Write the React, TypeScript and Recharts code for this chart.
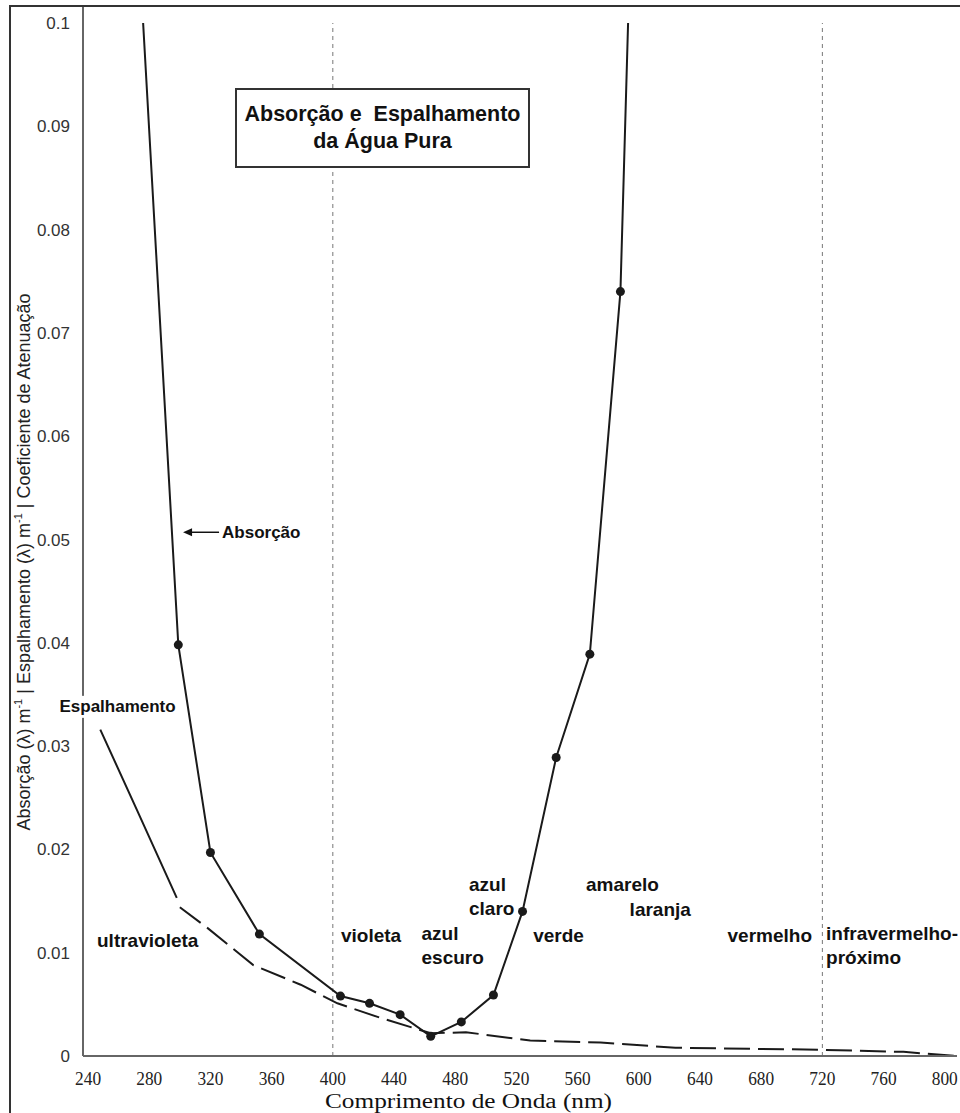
import React from 'react';
import { LineChart, Line, XAxis, YAxis, ReferenceLine, ReferenceDot, Label } from 'recharts';

// absorption of pure water (m-1)
const absorptionNm = [276, 299, 320, 352, 405, 424, 444, 464, 484, 505, 524, 546, 568, 588, 593];
const absorptionValue = [0.1, 0.0398, 0.0197, 0.0118, 0.0058, 0.0051, 0.004, 0.0019, 0.0033, 0.0059, 0.014, 0.0289, 0.0389, 0.074, 0.1];

// scattering: solid part, then the dashed part
const scatterSolidNm = [248, 272, 298];
const scatterSolidValue = [0.0316, 0.0238, 0.0153];
const scatterDashNm = [300, 318, 348, 379, 403, 431, 464, 487, 529, 575, 624, 720, 773, 807];
const scatterDashValue = [0.0144, 0.0124, 0.0088, 0.0069, 0.0051, 0.0037, 0.0022, 0.0023, 0.0015, 0.0013, 0.0008, 0.0006, 0.0004, 0];

const xTicks = [240, 280, 320, 360, 400, 440, 480, 520, 560, 600, 640, 680, 720, 760, 800];
const yTicks = [0, 0.01, 0.02, 0.03, 0.04, 0.05, 0.06, 0.07, 0.08, 0.09, 0.1];
const yTickLabels = ['0', '0.01', '0.02', '0.03', '0.04', '0.05', '0.06', '0.07', '0.08', '0.09', '0.1'];
const dividerNm = [400, 720];

// spectral band names
const bandLines = [['ultravioleta'], ['violeta'], ['azul', 'escuro'], ['azul', 'claro'], ['verde'], ['amarelo'], ['laranja'], ['vermelho'], ['infravermelho-', 'próximo']];
const bandNm = [279, 425, 458, 489, 531, 565.5, 594, 658, 722.4];
const bandValue = [0.0112, 0.0117, 0.0119, 0.0166, 0.0117, 0.0166, 0.0142, 0.0117, 0.0119];
const bandAnchor = ['middle', 'middle', 'start', 'start', 'start', 'start', 'start', 'start', 'start'];

const SANS = "'Liberation Sans', Arial, sans-serif";
const SERIF = "'Liberation Serif', 'Times New Roman', serif";

const absorptionData = absorptionNm.map((nm, i) => ({ nm, value: absorptionValue[i] }));
const scatterSolidData = scatterSolidNm.map((nm, i) => ({ nm, value: scatterSolidValue[i] }));
const scatterDashData = scatterDashNm.map((nm, i) => ({ nm, value: scatterDashValue[i] }));

const XTick = (props: any) => {
  const { x, y, payload } = props;
  return (
    <text x={x - 13} y={y + 27} textLength={26} lengthAdjust="spacingAndGlyphs" fontSize={19} fontFamily={SERIF} fill="#222">
      {payload.value}
    </text>
  );
};

const AbsDot = (props: any) => {
  const { cx, cy, index } = props;
  if (index === 0 || index === absorptionNm.length - 1) return <g key={`d${index}`} />;
  return <circle key={`d${index}`} cx={cx} cy={cy} r={4.5} fill="#1a1a1a" />;
};

const YTitle = (props: any) => {
  const cx = 24;
  const cy = 562;
  return (
    <text x={cx} y={cy} transform={`rotate(-90, ${cx}, ${cy})`} textAnchor="middle" dominantBaseline="central" fontSize={18} fontFamily={SANS} fill="#222">
      Absorção (λ) m<tspan baselineShift="super" fontSize={11}>-1</tspan>
      <tspan> | Espalhamento (λ) m</tspan>
      <tspan baselineShift="super" fontSize={11}>-1</tspan>
      <tspan> | Coeficiente de Atenuação</tspan>
    </text>
  );
};

const XTitle = (props: any) => (
  <text x={325} y={1108} textLength={287} lengthAdjust="spacingAndGlyphs" fontSize={20} fontFamily={SERIF} fill="#111">
    Comprimento de Onda (nm)
  </text>
);

const bandLabel = (lines: string[], anchor: string) => (p: any) => {
  const vb = p.viewBox || {};
  const x = vb.x + (vb.width || 0) / 2;
  const y = vb.y + (vb.height || 0) / 2;
  return (
    <g>
      {lines.map((t, i) => (
        <text key={t} x={x} y={y + i * 24} textAnchor={anchor as any} dominantBaseline="central" fontSize={19} fontWeight="bold" fontFamily={SANS} fill="#111">
          {t}
        </text>
      ))}
    </g>
  );
};

const espLabel = (p: any) => {
  const vb = p.viewBox || {};
  const x = vb.x;
  const y = vb.y;
  return (
    <g>
      <rect x={x - 62} y={y - 11} width={124} height={22} fill="#fff" />
      <text x={x} y={y} textAnchor="middle" dominantBaseline="central" fontSize={17} fontWeight="bold" fontFamily={SANS} fill="#111">
        Espalhamento
      </text>
    </g>
  );
};

const absLabel = (p: any) => {
  const vb = p.viewBox || {};
  const x = vb.x;
  const y = vb.y;
  return (
    <g>
      <line x1={x + 6} y1={y} x2={x + 36} y2={y} stroke="#111" strokeWidth={1.5} />
      <polygon points={`${x},${y} ${x + 9},${y - 4} ${x + 9},${y + 4}`} fill="#111" />
      <text x={x + 39} y={y} dominantBaseline="central" fontSize={17} fontWeight="bold" fontFamily={SANS} fill="#111">
        Absorção
      </text>
    </g>
  );
};

export default function App() {
  return (
    <div style={{ position: 'absolute', left: 0, top: 0, width: 960, height: 1113, background: '#fff', overflow: 'hidden' }}>
      <LineChart width={960} height={1113} margin={{ top: 7, right: 3, bottom: 7, left: 10 }}>
        <XAxis
          type="number"
          dataKey="nm"
          domain={[236.7, 808]}
          ticks={xTicks}
          interval={0}
          allowDataOverflow
          height={50}
          tickSize={0}
          tickLine={false}
          axisLine={{ stroke: '#666', strokeWidth: 2 }}
          tick={<XTick />}
        >
          <Label content={<XTitle />} />
        </XAxis>
        <YAxis
          type="number"
          domain={[0, 0.10155]}
          ticks={yTicks}
          interval={0}
          allowDataOverflow
          width={73}
          tickSize={0}
          tickMargin={13}
          tickLine={false}
          axisLine={{ stroke: '#666', strokeWidth: 2 }}
          tickFormatter={(v: number) => yTickLabels[yTicks.indexOf(v)] ?? String(v)}
          tick={{ fontSize: 17, fontFamily: SANS, fill: '#333' }}
        >
          <Label content={<YTitle />} />
        </YAxis>
        {dividerNm.map((nm) => (
          <ReferenceLine
            key={nm}
            segment={[{ x: nm, y: 0 }, { x: nm, y: 0.1 }]}
            stroke="#777"
            strokeWidth={1}
            strokeDasharray="4 4"
          />
        ))}
        <Line
          data={scatterSolidData}
          dataKey="value"
          type="linear"
          stroke="#1a1a1a"
          strokeWidth={2}
          dot={false}
          activeDot={false}
          isAnimationActive={false}
        />
        <Line
          data={scatterDashData}
          dataKey="value"
          type="linear"
          stroke="#1a1a1a"
          strokeWidth={2}
          strokeDasharray="26 8"
          dot={false}
          activeDot={false}
          isAnimationActive={false}
        />
        <Line
          data={absorptionData}
          dataKey="value"
          type="linear"
          stroke="#1a1a1a"
          strokeWidth={2}
          dot={AbsDot}
          activeDot={false}
          isAnimationActive={false}
        />
        {bandLines.map((lines, i) => (
          <ReferenceDot
            key={lines[0] + i}
            x={bandNm[i]}
            y={bandValue[i]}
            r={0}
            fill="none"
            stroke="none"
            label={bandLabel(lines, bandAnchor[i])}
          />
        ))}
        <ReferenceDot x={259.3} y={0.0338} r={0} fill="none" stroke="none" label={espLabel} />
        <ReferenceDot x={302.1} y={0.0507} r={0} fill="none" stroke="none" label={absLabel} />
      </LineChart>
      {/* outer frame, open on the right */}
      <div style={{ position: 'absolute', left: 9, top: 5, width: 960, height: 1120, borderLeft: '2px solid #333', borderTop: '2px solid #333', pointerEvents: 'none' }} />
      <div
        style={{
          position: 'absolute',
          left: 235,
          top: 88,
          width: 295,
          height: 80,
          boxSizing: 'border-box',
          border: '2px solid #333',
          background: '#fff',
          fontFamily: SANS,
          fontWeight: 'bold',
          fontSize: 21.5,
          lineHeight: '27px',
          color: '#111',
          textAlign: 'center',
          display: 'flex',
          flexDirection: 'column',
          justifyContent: 'center',
          whiteSpace: 'pre',
        }}
      >
        <div>{'Absorção e  Espalhamento'}</div>
        <div>da Água Pura</div>
      </div>
    </div>
  );
}
